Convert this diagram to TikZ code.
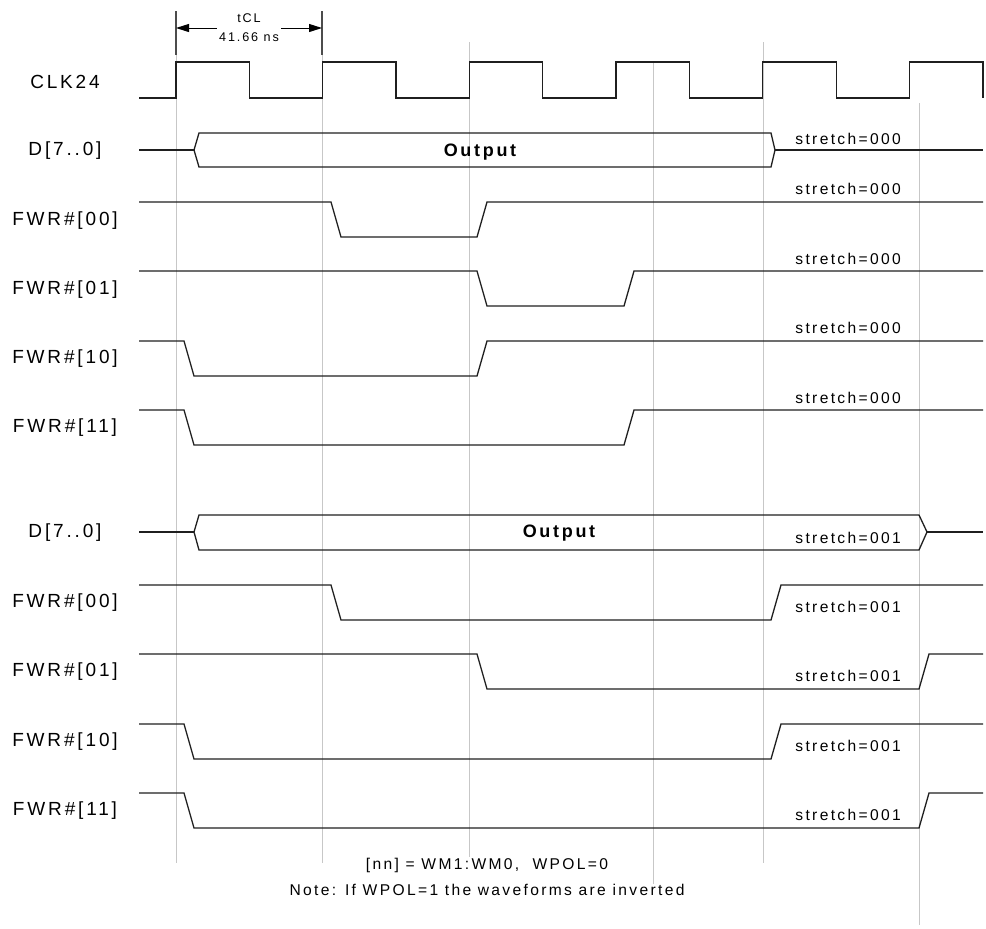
\documentclass[tikz,border=0pt]{standalone}
\usepackage{fontspec}
\newfontfamily\tvar{Liberation Sans}[LetterSpace=15]
\usetikzlibrary{positioning,arrows.meta}
\tikzset{
  prubeh/.style={line width=0.65pt,draw=black!88},
  mrizka/.style={line width=0.5pt,draw=black!22},
  znacka/.style={line width=0.6pt,draw=black!70},
  popis/.style={font=\tvar\fontsize{9.5}{11}\selectfont,inner sep=0pt},
  napis/.style={font=\tvar\fontsize{7.8}{9}\selectfont,inner sep=0pt,anchor=west},
  vystup/.style={font=\tvar\bfseries\fontsize{9}{11}\selectfont,inner sep=0pt},
  pozn/.style={font=\tvar\fontsize{7.8}{9}\selectfont,inner sep=0pt},
  sip/.style={-{Triangle[length=6.5pt,width=4pt]},line width=0.5pt},
}
\begin{document}
\begin{tikzpicture}[x=0.5pt,y=-0.5pt]
\useasboundingbox (0,0) rectangle (986,928);
% vodici cary
\foreach \x/\a/\b in {176/55/863,322/55/863,469/42/857,653/63/884,763/42/863,919/103/925}
  \draw[mrizka] (\x,\a) -- (\x,\b);
\coordinate (k1) at (176,11);
\coordinate (k1d) at (176,55);
\coordinate (k2) at (322,11);
\coordinate (k2d) at (322,55);
\draw[znacka] (k1) -- (k1d);
\draw[znacka] (k2) -- (k2d);
\node[font=\tvar\fontsize{6.3}{9.5}\selectfont,align=center,inner sep=1pt] (tcl) at (249,28) {tCL\\41.66 ns};
\draw[sip] (tcl.west) -- (k1 |- tcl.west);
\draw[sip] (tcl.east) -- (k2 |- tcl.east);
% hodiny
\node[popis] (lclk) at (65,82) {CLK24};
\draw[prubeh] (139,98) foreach \k in {0,...,5} {
  -- ({176+146.7*\k},98) -- ({176+146.7*\k},62)
  -- ({249.35+146.7*\k},62) -- ({249.35+146.7*\k},98)};
% stretch=000
\node[popis] (ld1) at (65,151) {D[7..0]};
\draw[prubeh] (139,150) -- (194,150);
\draw[prubeh] (194,150) -- (199,133) -- (771,133) -- (775,150) -- (771,167) -- (199,167) -- cycle;
\draw[prubeh] (775,150) -- (983,150);
\node[vystup] (out1) at (480,152) {Output};
\node[napis] (s1) at (795,139) {stretch=000};
\node[popis] (lw00a) at (65,221) {FWR\#[00]};
\draw[prubeh] (139,202) -- (331,202) -- (341,237) -- (477,237) -- (487,202) -- (983,202);
\node[napis] (s2) at (795,189) {stretch=000};
\node[popis] (lw01a) at (65,290) {FWR\#[01]};
\draw[prubeh] (139,271) -- (477,271) -- (487,306) -- (624,306) -- (634,271) -- (983,271);
\node[napis] (s3) at (795,259) {stretch=000};
\node[popis] (lw10a) at (65,359) {FWR\#[10]};
\draw[prubeh] (139,341) -- (184,341) -- (194,376) -- (477,376) -- (487,341) -- (983,341);
\node[napis] (s4) at (795,328) {stretch=000};
\node[popis] (lw11a) at (65,428) {FWR\#[11]};
\draw[prubeh] (139,410) -- (184,410) -- (194,445) -- (624,445) -- (634,410) -- (983,410);
\node[napis] (s5) at (795,398) {stretch=000};
% stretch=001
\node[popis] (ld2) at (65,533) {D[7..0]};
\draw[prubeh] (139,532) -- (194,532);
\draw[prubeh] (194,532) -- (199,515) -- (919,515) -- (927,532) -- (919,550) -- (199,550) -- cycle;
\draw[prubeh] (927,532) -- (983,532);
\node[vystup] (out2) at (559,533) {Output};
\node[napis] (s6) at (795,538) {stretch=001};
\node[popis] (lw00b) at (65,603) {FWR\#[00]};
\draw[prubeh] (139,585) -- (331,585) -- (341,620) -- (771,620) -- (781,585) -- (983,585);
\node[napis] (s7) at (795,607) {stretch=001};
\node[popis] (lw01b) at (65,672) {FWR\#[01]};
\draw[prubeh] (139,654) -- (477,654) -- (487,689) -- (919,689) -- (929,654) -- (983,654);
\node[napis] (s8) at (795,676) {stretch=001};
\node[popis] (lw10b) at (65,742) {FWR\#[10]};
\draw[prubeh] (139,724) -- (184,724) -- (194,759) -- (771,759) -- (781,724) -- (983,724);
\node[napis] (s9) at (795,746) {stretch=001};
\node[popis] (lw11b) at (65,811) {FWR\#[11]};
\draw[prubeh] (139,793) -- (184,793) -- (194,828) -- (919,828) -- (929,793) -- (983,793);
\node[napis] (s10) at (795,815) {stretch=001};
% poznamky
\node[pozn] (n1) at (487,865) {[nn] = WM1:WM0,\ \ WPOL=0};
\node[pozn] (n2) at (487,890) {Note: If WPOL=1 the waveforms are inverted};
\end{tikzpicture}
\end{document}
